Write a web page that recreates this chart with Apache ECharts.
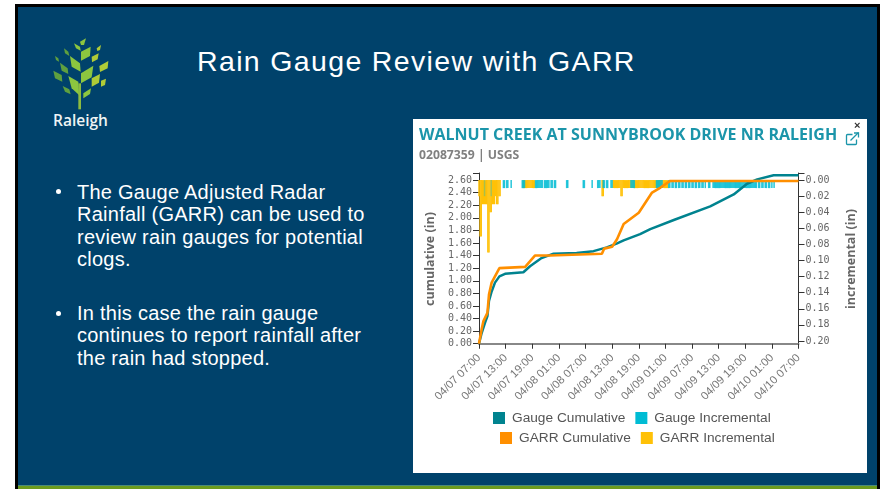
<!DOCTYPE html>
<html>
<head>
<meta charset="utf-8">
<style>
  html, body { margin: 0; padding: 0; background: #fff; }
  #slide { position: absolute; left: 15px; top: 4px; width: 865px; height: 485px; box-sizing: border-box;
    background: #00426b; border-left: 3px solid #000; border-top: 3px solid #000; border-right: 3px solid #000; overflow: hidden; }
  #rule { position: absolute; left: 18px; top: 485px; width: 859px; height: 1px; background: #4a8a7a; }
  #strip { position: absolute; left: 18px; top: 486px; width: 859px; height: 3px; background: #6b9b1e; }
  #logo { position: absolute; left: 0; top: 0; }
  .txt { position: absolute; color: #fff; font-family: "Liberation Sans", Arial, sans-serif; white-space: nowrap; }
  #heading { left: 197px; top: 44px; font-size: 28.5px; line-height: 34px; letter-spacing: 1.35px; }
  #raleigh { left: 53px; top: 110px; font-family: "Open Sans", sans-serif; font-weight: 600; font-size: 15.5px; line-height: 20px; color: #eef4f4; }
  .bullet { font-size: 20px; line-height: 22.3px; letter-spacing: 0.25px; left: 77px; }
  .dot { position: absolute; left: 56px; width: 5px; height: 5px; border-radius: 50%; background: #fff; }
  #card { position: absolute; left: 413px; top: 119px; width: 454px; height: 354px; background: #fff; }
  #chart { width: 454px; height: 354px; }
</style>
</head>
<body>
<div id="slide"></div>
<div id="rule"></div>
<div id="strip"></div>
<svg id="logo" width="300" height="150" viewBox="0 0 900 450">
  <rect x="235" y="250" width="8" height="78" fill="#8dbb3f"/>
  <g fill="#8cc63f">
    <polygon points="240,125 258,115 252,135 243,135"/>
    <polygon points="243,155 272,140 270,168 243,182"/>
    <polygon points="243,220 280,197 275,232 243,250"/>
    <polygon points="205,228 235,245 237,285 215,265"/>
    <polygon points="210,168 240,190 242,215 215,200"/>
    <polygon points="250,280 273,265 270,282 250,295"/>
    <polygon points="222,130 240,140 242,152 228,145"/>
  </g>
  <g fill="#5fa03f">
    <polygon points="192,145 205,155 208,168 195,160"/>
    <polygon points="165,168 175,175 177,185 168,180"/>
    <polygon points="180,188 203,205 205,222 185,212"/>
    <polygon points="160,212 185,225 187,245 165,235"/>
    <polygon points="188,258 208,268 212,283 195,275"/>
  </g>
  <g fill="#afcb37">
    <polygon points="290,145 303,135 300,150 292,153"/>
    <polygon points="275,170 296,160 293,178 276,187"/>
    <polygon points="298,198 325,183 323,205 300,216"/>
    <polygon points="275,235 300,222 297,248 275,260"/>
    <polygon points="303,242 318,236 315,255 303,260"/>
  </g>
</svg>
<div class="txt" id="raleigh">Raleigh</div>
<div class="txt" id="heading">Rain Gauge Review with GARR</div>
<div class="dot" style="top:189px"></div>
<div class="txt bullet" style="top:181px">The Gauge Adjusted Radar<br>Rainfall (GARR) can be used to<br>review rain gauges for potential<br>clogs.</div>
<div class="dot" style="top:311px"></div>
<div class="txt bullet" style="top:302px">In this case the rain gauge<br>continues to report rainfall after<br>the rain had stopped.</div>
<div id="card"><div id="chart"></div></div>
<script src="https://cdn.jsdelivr.net/npm/echarts@6/dist/echarts.min.js"></script>
<script>
// hours after 04/07 07:00
const tickLabels = ['04/07 07:00', '04/07 13:00', '04/07 19:00', '04/08 01:00', '04/08 07:00', '04/08 13:00', '04/08 19:00',
  '04/09 01:00', '04/09 07:00', '04/09 13:00', '04/09 19:00', '04/10 01:00', '04/10 07:00']
const leftTicks = [0, 0.2, 0.4, 0.6, 0.8, 1, 1.2, 1.4, 1.6, 1.8, 2, 2.2, 2.4, 2.6]
const rightTicks = [0, 0.02, 0.04, 0.06, 0.08, 0.1, 0.12, 0.14, 0.16, 0.18, 0.2]

const gaugeCumHours = [0, 0.6, 1.35, 1.9, 2.25, 2.85, 3.6, 4.6, 5.87, 10, 11.5, 14.1, 16.8, 22, 25.8, 28.8, 31, 32.6, 36.3, 38.6, 43.9, 52.1, 57.4, 60.4, 62.7, 66.4, 72]
const gaugeCumValues = [0, 0.17, 0.33, 0.44, 0.68, 0.83, 0.97, 1.07, 1.11, 1.135, 1.23, 1.36, 1.43, 1.44, 1.47, 1.53, 1.59, 1.64, 1.74, 1.82, 1.965, 2.18, 2.37, 2.54, 2.61, 2.675, 2.675]

const garrCumHours = [0, 0.6, 1, 1.9, 2.25, 2.85, 3.6, 4.6, 10.4, 12.6, 16, 27.7, 28.2, 30, 31.1, 32.6, 36, 39, 40.9, 43.1, 72]
const garrCumValues = [0, 0.23, 0.36, 0.49, 0.78, 0.97, 1.07, 1.2, 1.22, 1.4, 1.4, 1.43, 1.51, 1.54, 1.66, 1.9, 2.08, 2.4, 2.48, 2.585, 2.585]

const gaugeIncHours = [1.25, 2.75, 5.5, 5.75, 6.25, 6.5, 7.25, 9.75, 10, 10.25, 12.75, 13, 13.25, 13.5, 13.75, 14, 14.25,
  14.75, 15, 15.25, 15.5, 15.75, 16.25, 16.5, 17, 17.25, 19.75, 20, 23.5, 23.75, 25.5, 26.75, 27, 27.25, 28, 28.25, 28.75, 29, 29.75, 30,
  34.25, 34.5, 34.75, 35, 40, 40.25, 40.5, 40.75, 41, 41.25,
  42.75, 43, 43.5, 43.75, 44.25, 44.5, 45, 45.25, 45.75, 46, 46.5, 46.75, 47.25, 47.5, 48, 48.25, 48.75, 49, 49.5, 49.75, 50.25, 50.5, 51, 51.75, 52,
  52.75, 53, 53.25, 53.5, 53.75, 54, 54.25, 54.5, 54.75, 55, 55.25, 55.5, 55.75, 56, 56.25, 56.5, 56.75, 57, 57.25, 57.5, 57.75, 58, 58.25, 58.5, 58.75,
  59, 59.25, 59.5, 59.75, 60, 60.25, 60.5, 60.75, 61, 61.25, 61.5, 61.75, 62, 62.25, 62.5,
  63, 63.25, 63.75, 64, 64.5, 64.75, 65.25, 65.5, 66, 66.5]
const gaugeIncValues = [0.02, 0.02, 0.01, 0.01, 0.01, 0.01, 0.01, 0.01, 0.01, 0.01, 0.01, 0.01, 0.01, 0.01, 0.01, 0.01, 0.01,
  0.01, 0.01, 0.01, 0.01, 0.01, 0.01, 0.01, 0.01, 0.01, 0.01, 0.01, 0.01, 0.01, 0.01, 0.01, 0.01, 0.01, 0.01, 0.01, 0.01, 0.01, 0.01, 0.01,
  0.01, 0.01, 0.01, 0.01, 0.01, 0.01, 0.01, 0.01, 0.01, 0.01,
  0.01, 0.01, 0.01, 0.01, 0.01, 0.01, 0.01, 0.01, 0.01, 0.01, 0.01, 0.01, 0.01, 0.01, 0.01, 0.01, 0.01, 0.01, 0.01, 0.01, 0.01, 0.01, 0.01, 0.01, 0.01,
  0.01, 0.01, 0.01, 0.01, 0.01, 0.01, 0.01, 0.01, 0.01, 0.01, 0.01, 0.01, 0.01, 0.01, 0.01, 0.01, 0.01, 0.01, 0.01, 0.01, 0.01, 0.01, 0.01, 0.01, 0.01,
  0.01, 0.01, 0.01, 0.01, 0.01, 0.01, 0.01, 0.01, 0.01, 0.01, 0.01, 0.01, 0.01, 0.01, 0.01,
  0.01, 0.01, 0.01, 0.01, 0.01, 0.01, 0.01, 0.01, 0.01, 0.01]

const garrIncHours = [0, 0.25, 0.5, 0.75, 1, 1.25, 1.5, 1.75, 2, 2.25, 2.5, 2.75, 3, 3.25, 3.5, 3.75, 4, 4.25, 4.5, 4.75,
  10, 10.25, 10.5, 10.75, 11, 11.25, 11.5, 11.75, 12, 12.25, 12.5, 27.75, 28,
  30.25, 30.5, 30.75, 31, 31.25, 31.5, 31.75, 32, 32.25, 32.5, 32.75, 33, 33.25, 33.5, 33.75, 34, 34.25, 34.5, 34.75, 35,
  35.25, 35.5, 35.75, 36, 36.25, 36.5, 36.75, 37, 37.25, 37.5, 37.75, 38, 38.25, 38.5, 38.75, 39, 39.25, 39.5, 39.75,
  40, 40.25, 40.5, 40.75, 41, 41.25, 41.5, 41.75, 42, 42.25, 42.5]
const garrIncValues = [0.02, 0.07, 0.07, 0.03, 0.03, 0.03, 0.03, 0.03, 0.09, 0.09, 0.04, 0.04, 0.03, 0.03, 0.03, 0.02, 0.03, 0.03, 0.02, 0.02,
  0.01, 0.01, 0.01, 0.01, 0.01, 0.01, 0.01, 0.01, 0.01, 0.01, 0.01, 0.02, 0.02,
  0.01, 0.01, 0.01, 0.01, 0.01, 0.01, 0.01, 0.02, 0.02, 0.01, 0.01, 0.01, 0.01, 0.01, 0.01, 0.01, 0.01, 0.01, 0.01, 0.01,
  0.01, 0.01, 0.01, 0.01, 0.01, 0.01, 0.01, 0.01, 0.01, 0.01, 0.01, 0.01, 0.01, 0.01, 0.01, 0.01, 0.01, 0.01, 0.01,
  0.01, 0.01, 0.01, 0.01, 0.01, 0.01, 0.01, 0.01, 0.01, 0.01, 0.01]

const pair = (xs, ys) => xs.map((x, i) => [x, ys[i]])

const axisColor = '#333'
const textColor = '#666'
const legendText = { fontFamily: '"Liberation Sans", Arial, sans-serif', fontSize: 13.7, color: '#555', padding: [2, 0, 0, 2] }
const monoLabel = { fontFamily: '"DejaVu Sans Mono", monospace', fontSize: 10, color: textColor, margin: 7 }
const nameStyle = { fontFamily: '"Open Sans", sans-serif', fontWeight: 700, fontSize: 12.5, color: textColor }

const myChart = echarts.init(document.getElementById('chart'))

myChart.setOption({
  animation: false,
  title: {
    text: 'WALNUT CREEK AT SUNNYBROOK DRIVE NR RALEIGH',
    subtext: '02087359 | USGS',
    left: 6,
    top: 8,
    padding: 0,
    itemGap: 7,
    textStyle: { fontFamily: '"Open Sans", sans-serif', fontWeight: 700, fontSize: 16, color: '#1b95aa' },
    subtextStyle: { fontFamily: '"Open Sans", sans-serif', fontWeight: 700, fontSize: 12.2, color: '#808080' }
  },
  legend: [{
    left: 75,
    top: 287,
    icon: 'rect',
    itemWidth: 12,
    itemHeight: 12,
    itemGap: 10,
    selectedMode: false,
    data: [{ name: 'Gauge Cumulative' }, { name: 'Gauge Incremental', itemStyle: { opacity: 1 } }],
    textStyle: legendText
  }, {
    left: 82,
    top: 307,
    icon: 'rect',
    itemWidth: 12,
    itemHeight: 12,
    itemGap: 10,
    selectedMode: false,
    data: [{ name: 'GARR Cumulative' }, { name: 'GARR Incremental' }],
    textStyle: legendText
  }],
  grid: { left: 66, right: 68.5, top: 54, bottom: 128 },
  xAxis: {
    type: 'value',
    min: 0,
    max: 72,
    interval: 6,
    splitLine: { show: false },
    axisLine: { lineStyle: { color: '#888', width: 2 } },
    axisTick: { length: 5, lineStyle: { color: axisColor } },
    axisLabel: {
      rotate: 45,
      margin: 11,
      fontFamily: '"Liberation Sans", Arial, sans-serif',
      fontSize: 11.3,
      color: '#777',
      hideOverlap: false,
      formatter: val => tickLabels[val / 6]
    }
  },
  yAxis: [{
    type: 'value',
    min: -0.02,
    max: 2.711,
    name: 'cumulative (in)',
    nameLocation: 'middle',
    nameGap: 42,
    nameRotate: 90,
    nameTextStyle: nameStyle,
    splitLine: { show: false },
    axisLine: { show: true, lineStyle: { color: axisColor } },
    axisTick: { show: true, length: 6, lineStyle: { color: axisColor }, customValues: [...leftTicks, 2.711] },
    axisLabel: { ...monoLabel, customValues: leftTicks, formatter: val => val.toFixed(2) }
  }, {
    type: 'value',
    min: -0.0088,
    max: 0.205,
    inverse: true,
    position: 'right',
    name: 'incremental (in)',
    nameLocation: 'middle',
    nameGap: 46,
    nameRotate: 90,
    nameTextStyle: nameStyle,
    splitLine: { show: false },
    axisLine: { show: true, lineStyle: { color: axisColor } },
    axisTick: { show: true, length: 6, lineStyle: { color: axisColor }, customValues: [-0.0088, ...rightTicks] },
    axisLabel: { ...monoLabel, customValues: rightTicks, formatter: val => val.toFixed(2) }
  }],
  graphic: [{
    type: 'text',
    left: 441,
    top: 1,
    style: { text: '×', fontSize: 11, fontFamily: '"Liberation Sans", Arial, sans-serif', fontWeight: 700, fill: '#333' }
  }, {
    type: 'group',
    left: 431,
    top: 11,
    children: [
      { type: 'rect', shape: { x: 0, y: 2, width: 10, height: 10, r: 1 }, style: { fill: 'none', stroke: '#1b95aa', lineWidth: 1.3 } },
      { type: 'rect', shape: { x: 6, y: 0, width: 7, height: 7 }, style: { fill: '#fff', stroke: 'none' } },
      { type: 'polyline', shape: { points: [[4, 8], [12, 0]] }, style: { stroke: '#1b95aa', lineWidth: 1.3 } },
      { type: 'polyline', shape: { points: [[7.5, 0.5], [12, 0.5], [12, 5]] }, style: { fill: 'none', stroke: '#1b95aa', lineWidth: 1.3 } }
    ]
  }],
  series: [{
    name: 'Gauge Cumulative',
    type: 'line',
    z: 4,
    yAxisIndex: 0,
    symbol: 'none',
    lineStyle: { width: 2.5, color: '#00838f' },
    itemStyle: { color: '#00838f' },
    data: pair(gaugeCumHours, gaugeCumValues)
  }, {
    name: 'Gauge Incremental',
    type: 'bar',
    z: 3,
    yAxisIndex: 1,
    barWidth: 1.5,
    barGap: '-100%',
    itemStyle: { color: '#00bcd4', opacity: 0.85 },
    // the first hours sit on top of the GARR bars, the reference shows them only as a faint green
    data: pair(gaugeIncHours, gaugeIncValues).map(d => d[0] < 5 ? { value: d, itemStyle: { opacity: 0.35 } } : d)
  }, {
    name: 'GARR Cumulative',
    type: 'line',
    z: 5,
    yAxisIndex: 0,
    symbol: 'none',
    lineStyle: { width: 2.6, color: '#ff8f00' },
    itemStyle: { color: '#ff8f00' },
    data: pair(garrCumHours, garrCumValues)
  }, {
    name: 'GARR Incremental',
    type: 'bar',
    z: 2,
    yAxisIndex: 1,
    barWidth: 1.5,
    barGap: '-100%',
    itemStyle: { color: '#ffc107' },
    data: pair(garrIncHours, garrIncValues)
  }]
})
</script>
</body>
</html>
